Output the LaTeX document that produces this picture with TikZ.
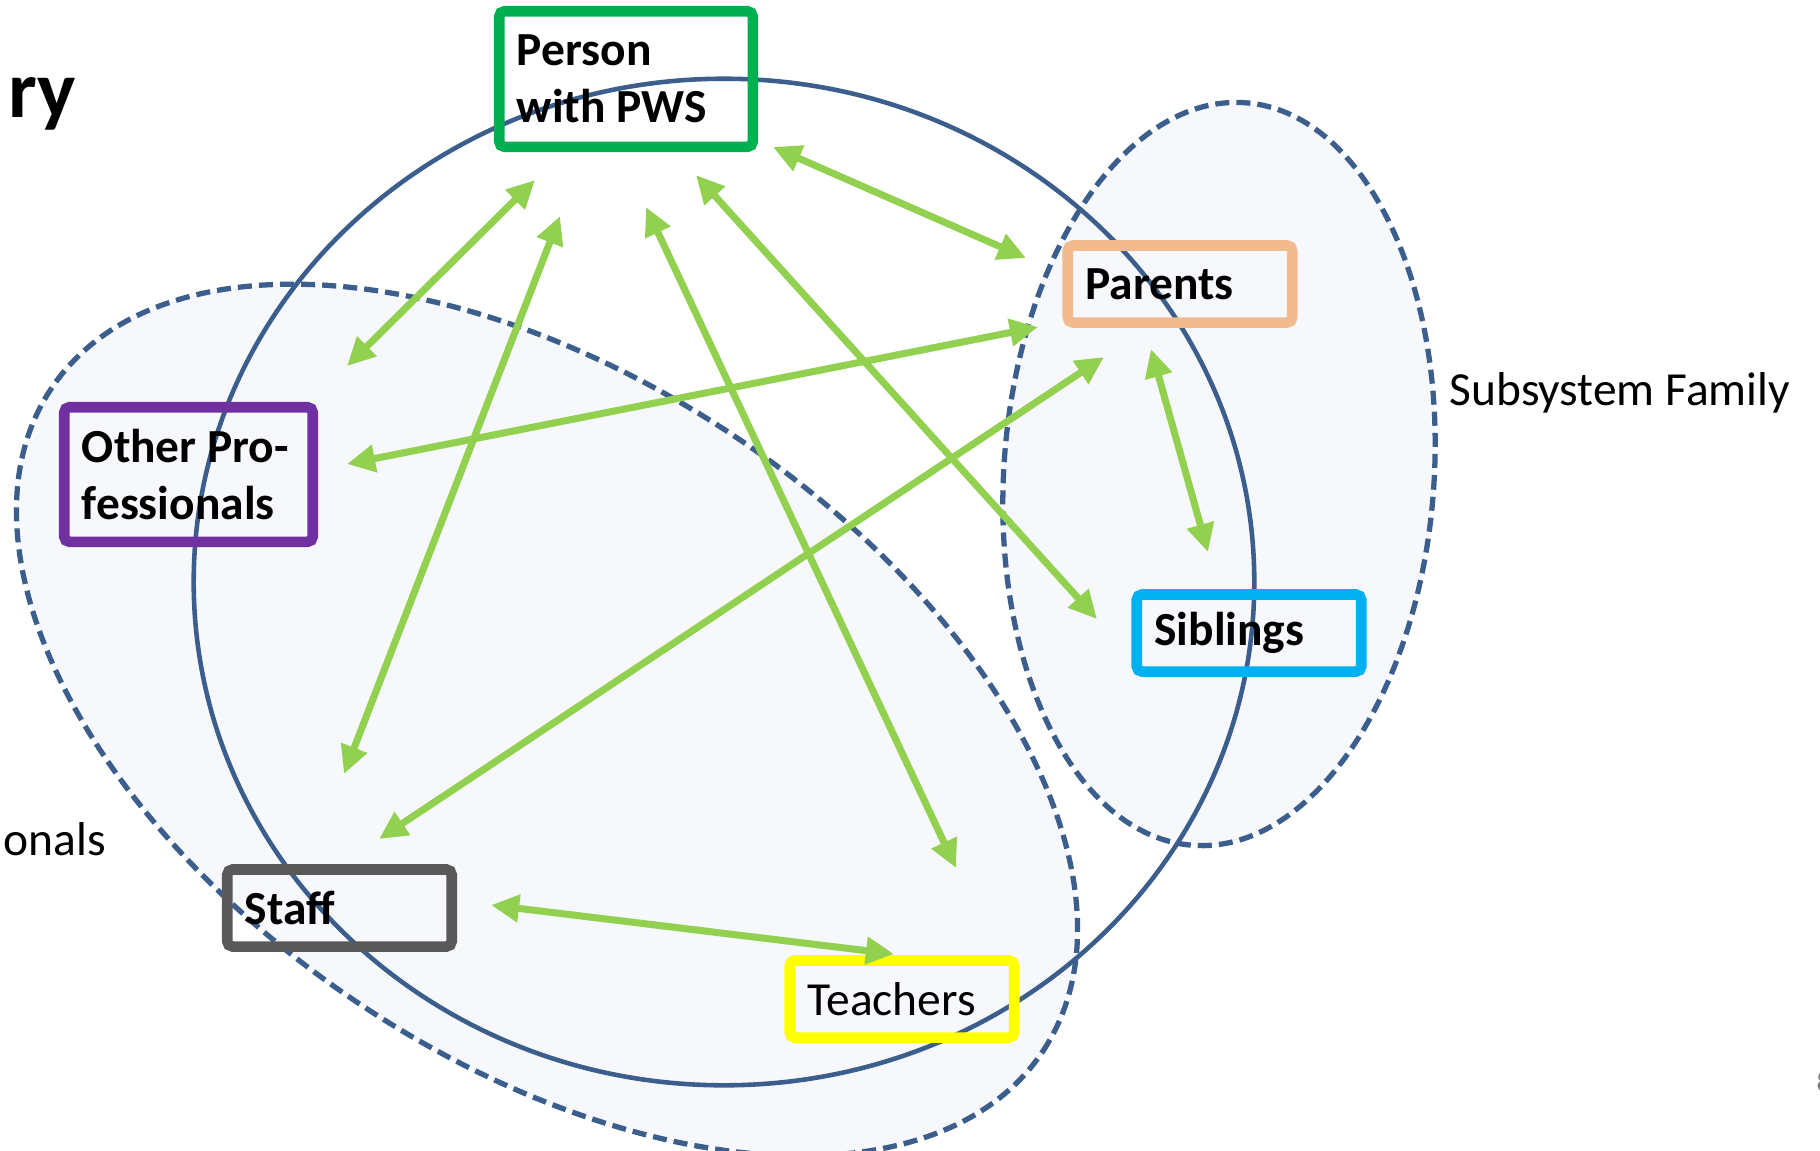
\documentclass[tikz,border=0pt]{standalone}
\usepackage{fontspec}
\setmainfont{Carlito}
\usetikzlibrary{arrows.meta}

\definecolor{bleuligne}{RGB}{59,94,140}
\definecolor{fondsys}{RGB}{246,248,252}
\definecolor{vertfleche}{RGB}{146,208,80}
\definecolor{vertpws}{RGB}{0,176,80}
\definecolor{peche}{RGB}{241,187,143}
\definecolor{bleusib}{RGB}{0,176,240}
\definecolor{violetop}{RGB}{112,48,160}
\definecolor{grisstaff}{RGB}{89,89,89}
\definecolor{jauneens}{RGB}{255,255,0}

\begin{document}
\begin{tikzpicture}[
    x=0.01cm,
    y=-0.01cm,
    >={Triangle[length=8pt,width=7.5pt]},
    boite/.style={
        draw,
        rectangle,
        rounded corners=1.5pt,
        line width=3pt,
        inner xsep=0.177cm,
        inner ysep=0pt,
        align=flush left,
        font=\fontsize{13.5}{16.2}\selectfont\bfseries
    },
    petiteboite/.style={
        boite,
        text width=1.89cm,
        minimum height=0.77cm
    },
    fleche/.style={
        <->,
        draw=vertfleche,
        line width=2pt
    },
    sousys/.style={
        draw=bleuligne,
        fill=fondsys,
        line width=1.5pt,
        dash pattern=on 4pt off 2pt
    },
    cercle/.style={
        draw=bleuligne,
        line width=1.3pt
    },
    texte/.style={
        anchor=base west,
        inner sep=0pt,
        font=\fontsize{13.5}{16.2}\selectfont
    }
]

\useasboundingbox (0,0) rectangle (1820,1150);

\draw[sousys, rotate around={-33.8:(547,720)}] (547,720) ellipse [x radius=5.96cm, y radius=3.4cm];
\draw[sousys, rotate around={-4:(1219,474)}] (1219,474) ellipse [x radius=2.15cm, y radius=3.72cm];
\draw[cercle] (724,582) ellipse [x radius=5.3cm, y radius=5.03cm];

\node[boite, draw=vertpws, text width=2.18cm, minimum height=1.355cm] (pws) at (626,79) {Person\\with PWS};
\node[boite, draw=violetop, text width=2.13cm, minimum height=1.345cm] (autres) at (188.5,474.5) {Other Pro-\\fessionals};
\node[petiteboite, draw=peche] (parents) at (1180,284) {Parents};
\node[petiteboite, draw=bleusib] (fratrie) at (1249,633) {Siblings};
\node[petiteboite, draw=grisstaff] (staff) at (339.5,908) {Staff};
\node[petiteboite, draw=jauneens, font=\fontsize{13.5}{16.2}\selectfont] (ens) at (902,999) {Teachers};

\coordinate (pws1) at (535,180);
\coordinate (pws2) at (560,216);
\coordinate (pws3) at (646,207);
\coordinate (pws4) at (696,175);
\coordinate (pws5) at (773,147);
\coordinate (autres1) at (347,366);
\coordinate (autres2) at (347,464);
\coordinate (staff1) at (344,774);
\coordinate (staff2) at (379,839);
\coordinate (staff3) at (491,905);
\coordinate (ens1) at (956,868);
\coordinate (ens2) at (894,954);
\coordinate (parents1) at (1026,258);
\coordinate (parents2) at (1038,327);
\coordinate (parents3) at (1104,357);
\coordinate (parents4) at (1151,349);
\coordinate (fratrie1) at (1097,619);
\coordinate (fratrie2) at (1208,552);

\draw[fleche] (pws1) -- (autres1);
\draw[fleche] (pws2) -- (staff1);
\draw[fleche] (pws3) -- (ens1);
\draw[fleche] (pws4) -- (fratrie1);
\draw[fleche] (pws5) -- (parents1);
\draw[fleche] (parents2) -- (autres2);
\draw[fleche] (parents3) -- (staff2);
\draw[fleche] (parents4) -- (fratrie2);
\draw[fleche] (staff3) -- (ens2);

\node[texte] (famille) at (1449,405) {Subsystem Family};
\node[texte] (prof) at (3,855) {onals};
\node[texte, font=\fontsize{23}{27}\selectfont\bfseries] (titre) at (8,117) {ry};
\node[texte, font=\fontsize{8}{9}\selectfont, text=gray] (num) at (1816,1091) {8};

\end{tikzpicture}
\end{document}
